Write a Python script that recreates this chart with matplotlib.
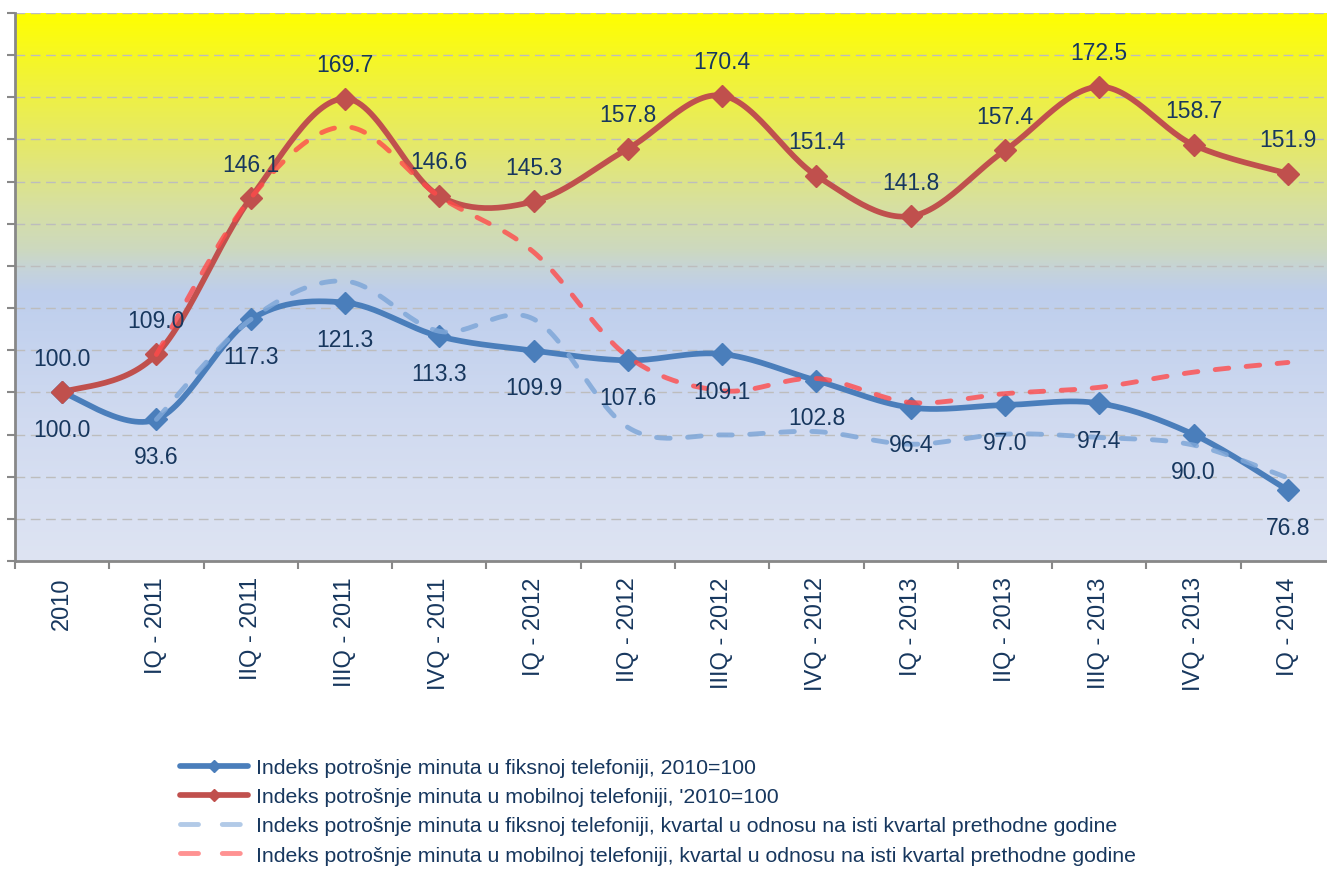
import numpy as np
import matplotlib
matplotlib.use('Agg')
import matplotlib.pyplot as plt
from matplotlib.lines import Line2D

plt.rcParams['font.family'] = ['Liberation Sans', 'DejaVu Sans']

periods = ['2010', 'IQ - 2011', 'IIQ - 2011', 'IIIQ - 2011', 'IVQ - 2011',
           'IQ - 2012', 'IIQ - 2012', 'IIIQ - 2012', 'IVQ - 2012',
           'IQ - 2013', 'IIQ - 2013', 'IIIQ - 2013', 'IVQ - 2013', 'IQ - 2014']

# index, 2010=100
fixed_idx = [100.0, 93.6, 117.3, 121.3, 113.3, 109.9, 107.6, 109.1, 102.8, 96.4, 97.0, 97.4, 90.0, 76.8]
mobile_idx = [100.0, 109.0, 146.1, 169.7, 146.6, 145.3, 157.8, 170.4, 151.4, 141.8, 157.4, 172.5, 158.7, 151.9]

# quarter vs same quarter previous year (starts at IQ - 2011)
fixed_yoy = [93.6, 117.3, 126.4, 114.5, 117.4, 91.7, 89.9, 90.7, 87.7, 90.1, 89.3, 87.5, 79.7]
mobile_yoy = [109.0, 146.1, 163.0, 146.5, 133.3, 108.5, 100.4, 103.3, 97.6, 99.7, 101.2, 104.8, 107.1]

legend_labels = [
    'Indeks potrošnje minuta u fiksnoj telefoniji, 2010=100',
    "Indeks potrošnje minuta u mobilnoj telefoniji, '2010=100",
    'Indeks potrošnje minuta u fiksnoj telefoniji, kvartal u odnosu na isti kvartal prethodne godine',
    'Indeks potrošnje minuta u mobilnoj telefoniji, kvartal u odnosu na isti kvartal prethodne godine',
]

BLUE = '#4A7EBB'
RED = '#C0504D'
LBLUE = '#7FA7D8'
PINK = '#FF4A4A'
NAVY = '#17375E'


def smooth(xs, ys, n=30):
    # excel-like smoothed line (catmull-rom as cubic bezier)
    pts = np.column_stack([xs, ys]).astype(float)
    p = np.vstack([pts[0], pts, pts[-1]])
    t = np.linspace(0, 1, n)[:, None]
    out = []
    for i in range(1, len(p) - 2):
        p0, p1, p2, p3 = p[i - 1], p[i], p[i + 1], p[i + 2]
        c1 = p1 + (p2 - p0) / 6
        c2 = p2 - (p3 - p1) / 6
        seg = (1 - t) ** 3 * p1 + 3 * (1 - t) ** 2 * t * c1 + 3 * (1 - t) * t ** 2 * c2 + t ** 3 * p2
        out.append(seg if i == 1 else seg[1:])
    s = np.vstack(out)
    return s[:, 0], s[:, 1]


fig = plt.figure(figsize=(13.27, 8.70), dpi=100)
ax = fig.add_axes([15 / 1327, (870 - 562) / 870, 1320 / 1327, 548 / 870])

x = np.arange(len(periods))
ax.set_xlim(-0.5, len(periods) - 0.5)
ax.set_ylim(60, 190)

# background gradient (bottom -> top)
stops = [0.0, 0.26, 0.42, 0.49, 0.53, 0.57, 0.65, 0.75, 0.87, 1.0]
cols = np.array([(222, 228, 243), (208, 218, 240), (195, 210, 238), (190, 206, 236),
                 (197, 211, 218), (205, 217, 190), (215, 224, 160), (228, 232, 110),
                 (240, 242, 60), (255, 255, 0)]) / 255
f = np.linspace(0, 1, 600)
grad = np.stack([np.interp(f, stops, cols[:, k]) for k in range(3)], axis=1)[:, None, :]
ax.imshow(grad, extent=[-0.5, len(periods) - 0.5, 60, 190], origin='lower',
          aspect='auto', zorder=0, interpolation='bilinear')

ax.set_axisbelow(True)
ax.set_yticks(np.arange(60, 191, 10))
ax.yaxis.grid(True, color='#BDBDBD', linestyle=(0, (7, 4)), linewidth=1.0)
ax.set_yticklabels([])
ax.tick_params(axis='y', length=6, width=1.5, color='#888888')

ax.set_xticks(x)
ax.set_xticklabels(periods, rotation=90, fontsize=17, color=NAVY)
ax.set_xticks(np.arange(-0.5, len(periods), 1), minor=True)
ax.tick_params(axis='x', which='major', length=0, pad=11)
ax.tick_params(axis='x', which='minor', length=6, width=1.5, color='#888888')

for side in ['top', 'right']:
    ax.spines[side].set_visible(False)
for side in ['left', 'bottom']:
    ax.spines[side].set_color('#888888')
    ax.spines[side].set_linewidth(2)

# solid index lines
for vals, c in [(fixed_idx, BLUE), (mobile_idx, RED)]:
    sx, sy = smooth(x, vals)
    ax.plot(sx, sy, color=c, lw=4.1, solid_capstyle='round', zorder=3)
    ax.plot(x, vals, ls='none', marker='D', ms=11, color=c, zorder=4)

# dashed yoy lines
xq = x[1:]
for vals, c, a in [(fixed_yoy, LBLUE, 0.85), (mobile_yoy, PINK, 0.8)]:
    sx, sy = smooth(xq, vals)
    ax.plot(sx, sy, color=c, alpha=a, lw=3.5, dashes=(2.8, 3.6), dash_capstyle='round', zorder=5)

# data labels
for xi, v in zip(x, fixed_idx):
    ax.annotate(f'{v:.1f}', (xi, v), xytext=(0, -37), textcoords='offset pixels',
                ha='center', va='center', fontsize=16.5, color=NAVY, zorder=6)
for xi, v in zip(x, mobile_idx):
    ax.annotate(f'{v:.1f}', (xi, v), xytext=(0, 34), textcoords='offset pixels',
                ha='center', va='center', fontsize=16.5, color=NAVY, zorder=6)

handles = [
    Line2D([], [], color=BLUE, lw=4.1, marker='D', ms=6, solid_capstyle='round'),
    Line2D([], [], color=RED, lw=4.1, marker='D', ms=6, solid_capstyle='round'),
    Line2D([], [], color=LBLUE, alpha=0.6, lw=3.5, dashes=(3.7, 4.9), dash_capstyle='round'),
    Line2D([], [], color=PINK, alpha=0.6, lw=3.5, dashes=(3.7, 4.9), dash_capstyle='round'),
]
leg = fig.legend(handles, legend_labels, loc='upper left', bbox_to_anchor=(180 / 1327, 1 - 759 / 870),
                 frameon=False, fontsize=15.3, handlelength=3.2, handletextpad=0.4,
                 labelspacing=0.48, borderpad=0, borderaxespad=0)
for t in leg.get_texts():
    t.set_color(NAVY)

fig.savefig('out.png', dpi=100)
